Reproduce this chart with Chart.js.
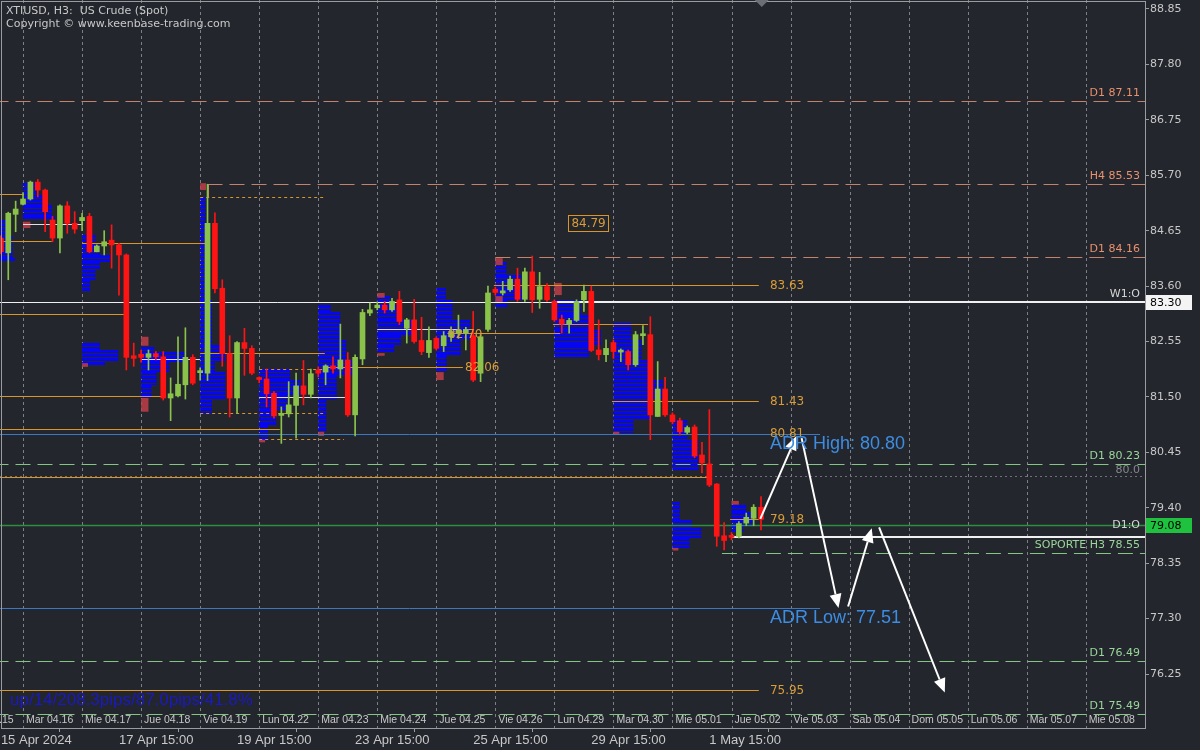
<!DOCTYPE html>
<html>
<head>
<meta charset="utf-8">
<title>XTIUSD H3 - US Crude (Spot)</title>
<script src="https://cdn.jsdelivr.net/npm/chart.js@4.4.1/dist/chart.umd.min.js"></script>
<style>
    html, body { margin: 0; padding: 0; background: #23262d; }
    #wrap { width: 1200px; height: 750px; }
</style>
</head>
<body>
<div id="wrap"><canvas id="chart" width="1200" height="750"></canvas></div>
<script>
// H3 bars, index 0 = first bar of Mar 04.16 (8 bars per day)
const firstBar = -3;
const opens = [
    84.51, 84.23, 84.96,
    85.15, 85.25, 85.57, 85.42, 84.85, 84.51, 85.12, 84.79,
    84.84, 84.92, 84.25, 84.36, 84.47, 84.38, 84.19, 82.28,
    82.31, 82.25, 82.32, 82.26, 81.48, 81.52, 81.73, 82.25,
    81.96, 81.95, 84.79, 83.56, 82.32, 81.48, 82.53, 82.42,
    81.84, 81.84, 81.57, 81.15, 81.18, 81.34, 81.71, 81.55,
    82.01, 81.97, 82.09, 82.03, 82.20, 81.16, 82.22, 83.09,
    83.19, 83.24, 83.15, 83.34, 82.80, 82.96, 82.57, 82.34,
    82.61, 82.47, 82.64, 82.71, 82.71, 82.66, 81.95, 82.78,
    83.54, 83.47, 83.53, 83.73, 83.35, 83.87, 83.35, 83.59,
    83.31, 82.97, 82.88, 82.95, 83.34, 83.50, 82.39, 82.30,
    82.53, 82.35, 82.36, 82.11, 82.66, 82.68, 81.13, 81.65,
    81.16, 81.05, 80.83, 80.93, 80.40, 80.23, 79.85, 78.87,
    78.87, 78.86, 79.11, 79.20, 79.41
];
const highs = [
    84.55, 85.00, 85.21,
    85.37, 85.59, 85.62, 85.44, 84.92, 85.14, 85.20, 85.01,
    84.98, 84.98, 84.38, 84.65, 84.76, 84.41, 84.21, 82.52,
    82.39, 82.39, 82.36, 82.36, 81.86, 82.64, 82.81, 82.30,
    82.05, 85.53, 84.99, 83.72, 82.66, 82.55, 82.80, 82.47,
    81.88, 82.03, 81.60, 81.31, 81.79, 81.95, 82.19, 82.03,
    82.07, 82.11, 82.26, 82.88, 82.34, 82.30, 83.16, 83.28,
    83.30, 83.31, 83.37, 83.50, 82.99, 83.35, 83.01, 82.83,
    82.64, 82.74, 82.83, 83.05, 82.82, 83.12, 82.68, 83.60,
    83.58, 83.69, 83.79, 83.94, 83.94, 84.17, 83.86, 83.65,
    83.34, 83.05, 82.99, 83.34, 83.62, 83.60, 82.96, 82.58,
    82.58, 82.41, 82.39, 82.74, 82.85, 83.02, 82.17, 81.87,
    81.20, 81.10, 80.95, 80.97, 80.64, 81.26, 79.86, 79.12,
    78.93, 79.14, 79.30, 79.46, 79.61
];
const lows = [
    84.21, 83.72, 84.63,
    85.14, 85.23, 85.29, 84.63, 84.44, 84.23, 84.60, 84.60,
    84.65, 84.23, 84.25, 84.19, 83.94, 83.43, 82.01, 82.08,
    82.16, 82.01, 82.20, 81.44, 81.05, 81.50, 81.46, 81.73,
    81.82, 81.81, 83.47, 82.08, 81.12, 81.19, 81.91, 81.92,
    81.77, 81.31, 81.10, 80.62, 81.12, 80.72, 81.35, 81.48,
    81.88, 81.73, 81.95, 81.86, 81.13, 80.76, 82.11, 83.04,
    83.15, 83.09, 83.12, 82.87, 82.52, 82.52, 82.30, 82.25,
    82.39, 82.36, 82.55, 82.61, 82.39, 81.79, 81.79, 82.74,
    83.43, 83.43, 83.50, 83.31, 83.31, 83.10, 83.18, 83.31,
    82.93, 82.71, 82.71, 82.93, 83.12, 82.36, 82.20, 82.17,
    82.23, 82.17, 82.01, 82.08, 82.49, 80.69, 81.13, 81.13,
    80.99, 80.78, 80.80, 80.35, 80.06, 79.80, 78.67, 78.60,
    78.79, 78.83, 79.06, 79.06, 78.98
];
const closes = [
    84.25, 84.98, 85.06,
    85.25, 85.57, 85.42, 85.01, 84.51, 85.12, 84.79, 84.68,
    84.90, 84.25, 84.36, 84.44, 84.38, 84.19, 82.25, 82.23,
    82.25, 82.32, 82.26, 81.48, 81.56, 81.74, 82.25, 81.76,
    81.98, 84.79, 83.55, 82.32, 81.48, 82.53, 82.42, 81.95,
    81.83, 81.56, 81.14, 81.17, 81.35, 81.71, 81.55, 81.94,
    81.95, 82.09, 82.03, 82.20, 81.16, 82.25, 83.10, 83.15,
    83.24, 83.15, 83.31, 82.93, 82.96, 82.55, 82.36, 82.57,
    82.42, 82.66, 82.74, 82.77, 82.78, 81.82, 82.64, 83.47,
    83.48, 83.51, 83.73, 83.35, 83.87, 83.34, 83.59, 83.34,
    82.96, 82.88, 82.95, 83.31, 83.50, 82.38, 82.30, 82.42,
    82.36, 82.36, 82.11, 82.68, 82.69, 81.16, 81.65, 81.16,
    81.03, 80.84, 80.92, 80.38, 80.25, 79.83, 78.86, 78.78,
    78.84, 79.10, 79.22, 79.41, 79.18
];

// axes
const yTicks = [88.85, 87.80, 86.75, 85.70, 84.65, 83.60, 82.55, 81.50, 80.45, 79.40, 78.35, 77.30, 76.25];
const timeTickIdx = [-3, 13, 29, 45, 61, 77, 93];
const timeTickLabels = ['15 Apr 2024', '17 Apr 15:00', '19 Apr 15:00', '23 Apr 15:00', '25 Apr 15:00', '29 Apr 15:00', '1 May 15:00'];
const dayStarts = [-8, 0, 8, 16, 24, 32, 40, 48, 56, 64, 72, 80, 88, 96, 104, 112, 120, 128, 136, 144];
const dayNames = ['Lun 04.15', 'Mar 04.16', 'Mie 04.17', 'Jue 04.18', 'Vie 04.19', 'Lun 04.22', 'Mar 04.23', 'Mie 04.24',
    'Jue 04.25', 'Vie 04.26', 'Lun 04.29', 'Mar 04.30', 'Mie 05.01', 'Jue 05.02', 'Vie 05.03', 'Sab 05.04',
    'Dom 05.05', 'Lun 05.06', 'Mar 05.07', 'Mie 05.08'];

// pivot levels (dashed, labelled on the right)
const levelPrices = [87.11, 85.53, 84.16, 80.23, 78.55, 76.49, 75.49];
const levelTags = ['D1 87.11', 'H4 85.53', 'D1 84.16', 'D1 80.23', 'SOPORTE H3 78.55', 'D1 76.49', 'D1 75.49'];
const levelFrom = [-4, 25, 64, -4, 94.7, -4, -4];
const levelIsResistance = [true, true, true, false, false, false, false];

const weeklyOpen = 83.30;
const dailyOpen = 79.08;
const roundLevel = 80.0;
const supportLine = [96.1, 78.85];
const adrHigh = 80.80;
const adrLow = 77.51;
const adrEnd = 108;

// [fromBar, toBar, price]
const orangeLines = [
    [-4, 0, 85.35], [-4, 3.9, 84.46], [8, 24.7, 84.42], [-4, 13.8, 83.07], [-4, 18.8, 81.52],
    [-4, 34.8, 80.90], [24, 40.9, 82.33], [40.9, 59.6, 82.06], [57.5, 72.8, 82.71], [71.8, 84.7, 82.88],
    [63.8, 99.7, 83.63], [79.8, 99.7, 81.43], [-4, 92.7, 79.99], [95.8, 99.7, 79.18], [-4, 99.7, 75.95]
];
const orangeDotted = [[24, 40.9, 85.29], [24, 40.9, 81.19], [32, 40.7, 82.03], [32, 43.5, 80.70]];
const pocLines = [[0, 8, 84.78], [16, 24, 82.22], [32, 44, 81.49], [48, 58.9, 82.79]];
const rightTags = [83.63, 81.43, 80.81, 79.18, 75.95];
const rightTagBar = 101.2;
const innerTags = [[57.6, 82.70], [59.9, 82.06]];
const boxTag = [73.9, 84.79];

// volume profiles: day start bar + rows [topPrice, bottomPrice, lengthInBars]
const profileStarts = [-8, 0, 8, 16, 24, 32, 40, 48, 56, 64, 72, 80, 88, 96];
const profileRows = [
    [[84.85, 84.55, 6.2], [84.55, 84.13, 6.6], [84.13, 84.06, 6.9]],
    [[85.55, 85.33, 1.8], [85.33, 85.14, 3.0], [85.14, 84.93, 3.9], [84.93, 84.87, 4.3]],
    [[84.57, 84.38, 1.8], [84.38, 84.19, 2.4], [84.19, 84.06, 3.8], [84.06, 83.91, 2.4], [83.91, 83.72, 1.8],
     [83.72, 83.49, 1.1], [82.52, 82.39, 2.4], [82.39, 82.16, 4.9], [82.16, 82.09, 3.1]],
    [[82.45, 82.35, 1.8], [82.35, 82.16, 5.9], [82.16, 81.97, 3.8], [81.97, 81.73, 2.1], [81.73, 81.48, 1.4]],
    [[85.29, 83.34, 0.7], [83.34, 82.49, 1.6], [82.49, 82.16, 3.4], [82.16, 81.97, 2.0], [81.97, 81.44, 3.4], [81.44, 81.20, 1.6]],
    [[82.03, 81.82, 4.2], [81.82, 81.54, 5.6], [81.54, 81.26, 3.8], [81.26, 80.97, 2.3], [80.97, 80.69, 1.2]],
    [[83.24, 83.11, 1.7], [83.11, 82.58, 3.0], [82.58, 82.20, 3.8], [82.20, 81.92, 5.1], [81.92, 81.44, 2.5], [81.44, 80.84, 1.1]],
    [[83.41, 83.24, 1.8], [83.24, 82.96, 3.2], [82.96, 82.68, 4.8], [82.68, 82.49, 3.2], [82.49, 82.33, 2.3]],
    [[83.57, 83.34, 1.3], [83.34, 82.96, 2.2], [82.96, 82.58, 4.6], [82.58, 82.30, 3.3], [82.30, 81.97, 1.4]],
    [[84.06, 83.81, 1.5], [83.81, 83.53, 3.5], [83.53, 83.34, 4.3], [83.34, 83.19, 1.6]],
    [[83.34, 83.05, 3.6], [83.05, 82.77, 5.0], [82.77, 82.49, 6.3], [82.49, 82.24, 4.7]],
    [[82.90, 82.58, 2.4], [82.58, 82.20, 3.8], [82.20, 81.82, 5.1], [81.82, 81.44, 6.7], [81.44, 81.07, 5.1], [81.07, 80.82, 2.7]],
    [[81.07, 80.69, 2.0], [80.69, 80.12, 3.5], [79.51, 79.17, 1.0], [79.17, 79.02, 2.6], [79.02, 78.83, 3.9], [78.83, 78.64, 2.3]],
    [[79.46, 79.32, 2.0], [79.32, 79.08, 3.0], [79.08, 78.94, 1.6]]
];
// small value-area blocks [startBar, top, bottom, lengthInBars]
const vaBlocks = [
    [0, 84.82, 84.70, 1], [8, 82.14, 82.07, 0.8], [16, 82.64, 82.47, 1], [16, 81.48, 81.22, 1],
    [24, 85.55, 85.42, 0.8], [32, 80.69, 80.64, 0.8], [40, 80.84, 80.76, 0.8], [48, 83.47, 83.38, 1],
    [48, 82.33, 82.28, 1], [56, 81.97, 81.82, 1], [64, 84.13, 84.00, 1], [64, 83.41, 83.30, 1],
    [72, 83.66, 83.43, 1], [80, 80.84, 80.79, 0.8], [88, 78.64, 78.59, 0.8], [96, 79.53, 79.46, 1]
];

// projected path arrows [bar, price]
const arrowFrom = [[99.9, 79.19], [105.5, 80.72], [111.8, 77.53], [116.0, 79.03]];
const arrowTo = [[104.8, 80.76], [110.5, 77.50], [115.0, 79.01], [124.9, 75.90]];

const statsText = 'up/14/208.3pips/87.0pips/41.8%';

const bull = '#8bc34a';
const bear = '#ff1414';
const barIdx = opens.map((_, k) => firstBar + k);
const candleColors = barIdx.map((_, k) => closes[k] >= opens[k] ? bull : bear);

const overlay = {
    id: 'overlay',
    beforeDraw(chart) {
        const { ctx } = chart;
        ctx.save();
        ctx.fillStyle = '#23262d';
        ctx.fillRect(0, 0, chart.width, chart.height);
        ctx.restore();
    },
    beforeDatasetsDraw(chart) {
        const { ctx, chartArea: a, scales: { x: xs, y: ys } } = chart;
        const X = v => xs.getPixelForValue(v);
        const Y = v => Math.round(ys.getPixelForValue(v)) + 0.5;
        ctx.save();
        ctx.beginPath();
        ctx.rect(a.left, a.top, a.right - a.left, a.bottom - a.top);
        ctx.clip();

        // day separators
        ctx.strokeStyle = '#7d7f84';
        ctx.lineWidth = 1;
        ctx.setLineDash([3, 3]);
        dayStarts.forEach(d => {
            const px = Math.round(X(d)) + 0.5;
            ctx.beginPath(); ctx.moveTo(px, a.top); ctx.lineTo(px, a.bottom); ctx.stroke();
        });
        ctx.setLineDash([]);

        // volume profiles (striped like a histogram)
        ctx.fillStyle = '#0606f0';
        profileStarts.forEach((s, k) => {
            profileRows[k].forEach(([top, bot, len]) => {
                const y0 = Math.round(ys.getPixelForValue(top)), y1 = Math.round(ys.getPixelForValue(bot));
                const x0 = X(s), w = X(s + len) - X(s);
                for (let yy = y0; yy < y1; yy += 4) ctx.fillRect(x0, yy, w, Math.min(3, y1 - yy));
            });
        });
        ctx.fillStyle = 'rgba(190, 62, 72, 0.85)';
        vaBlocks.forEach(([s, top, bot, len]) => {
            const y0 = ys.getPixelForValue(top), y1 = ys.getPixelForValue(bot);
            ctx.fillRect(X(s), y0, X(s + len) - X(s), Math.max(2, y1 - y0));
        });

        const hline = (x0, x1, y) => { ctx.beginPath(); ctx.moveTo(x0, y); ctx.lineTo(x1, y); ctx.stroke(); };

        // round number
        ctx.strokeStyle = '#6f7278';
        ctx.setLineDash([2, 3]);
        hline(a.left, a.right, Y(roundLevel));
        ctx.setLineDash([]);

        // pivot levels
        ctx.lineWidth = 1;
        ctx.setLineDash([15, 7]);
        levelPrices.forEach((p, k) => {
            ctx.strokeStyle = levelIsResistance[k] ? '#c4826a' : '#82c682';
            hline(X(levelFrom[k]), a.right, Y(p));
        });
        ctx.setLineDash([]);
        // H4 level start tick
        ctx.strokeStyle = '#c4826a';
        ctx.beginPath();
        ctx.moveTo(Math.round(X(levelFrom[1])) + 0.5, Y(levelPrices[1]));
        ctx.lineTo(Math.round(X(levelFrom[1])) + 0.5, Y(85.29));
        ctx.stroke();

        // ADR lines
        ctx.strokeStyle = '#3b78c2';
        hline(X(-4), X(adrEnd), Y(adrHigh));
        hline(X(-4), X(adrEnd), Y(adrLow));

        // session lines
        ctx.strokeStyle = '#d8962a';
        orangeLines.forEach(([x0, x1, p]) => hline(X(x0), X(x1), Y(p)));
        ctx.setLineDash([3, 3]);
        orangeDotted.forEach(([x0, x1, p]) => hline(X(x0), X(x1), Y(p)));
        ctx.setLineDash([]);
        ctx.strokeStyle = '#e6dbe6';
        pocLines.forEach(([x0, x1, p]) => hline(X(x0), X(x1), Y(p)));

        // daily open
        ctx.strokeStyle = '#2f8f40';
        ctx.lineWidth = 1.5;
        hline(a.left, a.right, Y(dailyOpen));

        // weekly open
        ctx.strokeStyle = '#f0f0f0';
        ctx.lineWidth = 1;
        hline(a.left, X(72), Y(weeklyOpen));
        ctx.lineWidth = 2;
        hline(X(72), a.right, Math.round(ys.getPixelForValue(weeklyOpen)));
        hline(X(supportLine[0]), a.right, Math.round(ys.getPixelForValue(supportLine[1])));
        ctx.restore();
    },
    afterDatasetsDraw(chart) {
        const { ctx, chartArea: a, scales: { x: xs, y: ys } } = chart;
        const X = v => xs.getPixelForValue(v);
        const Y = v => Math.round(ys.getPixelForValue(v)) + 0.5;
        ctx.save();
        ctx.beginPath();
        ctx.rect(a.left, a.top, a.right - a.left, a.bottom - a.top);
        ctx.clip();

        // arrows
        ctx.strokeStyle = '#ffffff';
        ctx.fillStyle = '#ffffff';
        ctx.lineWidth = 2;
        arrowFrom.forEach((f, k) => {
            const x0 = X(f[0]), y0 = ys.getPixelForValue(f[1]);
            const x1 = X(arrowTo[k][0]), y1 = ys.getPixelForValue(arrowTo[k][1]);
            const ang = Math.atan2(y1 - y0, x1 - x0);
            const hl = 14, hw = 6;
            const bx = x1 - hl * Math.cos(ang), by = y1 - hl * Math.sin(ang);
            ctx.beginPath(); ctx.moveTo(x0, y0); ctx.lineTo(bx, by); ctx.stroke();
            ctx.beginPath();
            ctx.moveTo(x1, y1);
            ctx.lineTo(bx + hw * Math.sin(ang), by - hw * Math.cos(ang));
            ctx.lineTo(bx - hw * Math.sin(ang), by + hw * Math.cos(ang));
            ctx.closePath(); ctx.fill();
        });

        // level labels on the right
        ctx.font = '11px "DejaVu Sans"';
        ctx.textAlign = 'right';
        ctx.textBaseline = 'bottom';
        levelPrices.forEach((p, k) => {
            ctx.fillStyle = levelIsResistance[k] ? '#e8916d' : '#9ad69a';
            ctx.fillText(levelTags[k], a.right - 5, Y(p) - 3);
        });
        ctx.fillStyle = '#d6d6d6';
        ctx.fillText('W1:O', a.right - 5, Y(weeklyOpen) - 3);
        ctx.fillStyle = '#85888d';
        ctx.fillText(roundLevel.toFixed(1), a.right - 5, Y(roundLevel) - 1);
        ctx.textBaseline = 'middle';
        ctx.fillStyle = '#d6d6d6';
        ctx.fillText('D1:O', a.right - 5, Y(dailyOpen));

        // orange price tags
        ctx.textAlign = 'left';
        ctx.font = '12px "DejaVu Sans"';
        ctx.fillStyle = '#d89c38';
        rightTags.forEach(p => ctx.fillText(p.toFixed(2), X(rightTagBar), Y(p)));
        innerTags.forEach(([b, p]) => ctx.fillText(p.toFixed(2), X(b), Y(p)));
        const bw = ctx.measureText(boxTag[1].toFixed(2)).width;
        ctx.fillText(boxTag[1].toFixed(2), X(boxTag[0]) + 3, Y(boxTag[1]));
        ctx.strokeStyle = '#d8962a';
        ctx.lineWidth = 1;
        ctx.strokeRect(Math.round(X(boxTag[0])) + 0.5, Y(boxTag[1]) - 8, Math.round(bw + 6), 16);

        // ADR texts
        ctx.font = '18px "Liberation Sans"';
        ctx.fillStyle = '#3d8de2';
        ctx.fillText('ADR High: ' + adrHigh.toFixed(2), X(rightTagBar), Y(adrHigh) + 10);
        ctx.fillText('ADR Low: ' + adrLow.toFixed(2), X(rightTagBar), Y(adrLow) + 10);

        // stats
        ctx.font = '17px "Liberation Sans"';
        ctx.fillStyle = '#1a1ac0';
        ctx.fillText(statsText, 10, 700);

        // day labels
        ctx.font = '10.5px "Liberation Sans"';
        ctx.fillStyle = '#c8c8c8';
        dayStarts.forEach((d, k) => ctx.fillText(dayNames[k], X(d) + 3, 720));

        // title
        ctx.font = '11px "DejaVu Sans"';
        ctx.fillText('XTIUSD, H3:  US Crude (Spot)', 6, 11);
        ctx.fillText('Copyright \u00a9 www.keenbase-trading.com', 6, 24);
        ctx.restore();

        // frame
        ctx.save();
        ctx.strokeStyle = '#9a9ca0';
        ctx.lineWidth = 1;
        ctx.strokeRect(a.left + 1.5, a.top + 1.5, a.right - a.left - 1, a.bottom - a.top - 1);

        // shift marker
        ctx.fillStyle = '#6c6f75';
        const mx = X(100.1);
        ctx.beginPath(); ctx.moveTo(mx - 7, 0); ctx.lineTo(mx + 7, 0); ctx.lineTo(mx, 7); ctx.closePath(); ctx.fill();

        // price boxes on the axis
        ctx.font = '11px "DejaVu Sans"';
        ctx.textAlign = 'left';
        ctx.textBaseline = 'middle';
        [[weeklyOpen, '#f4f4f4'], [dailyOpen, '#1fc23e']].forEach(([p, bg]) => {
            const y = Math.round(ys.getPixelForValue(p));
            ctx.fillStyle = bg;
            ctx.fillRect(a.right + 1, y - 7, 46, 15);
            ctx.fillStyle = '#000000';
            ctx.fillText(p.toFixed(2), a.right + 5, y + 1);
        });
        ctx.restore();
    }
};

new Chart(document.getElementById('chart'), {
    type: 'bar',
    data: {
        datasets: [
            {
                label: 'wick',
                data: barIdx.map((x, k) => ({ x, y: [lows[k], highs[k]] })),
                backgroundColor: candleColors,
                barThickness: 1,
                grouped: false,
                order: 2
            },
            {
                label: 'body',
                data: barIdx.map((x, k) => ({ x, y: [opens[k], closes[k]] })),
                backgroundColor: candleColors,
                barThickness: 5,
                minBarLength: 2,
                grouped: false,
                order: 1
            }
        ]
    },
    options: {
        responsive: false,
        animation: false,
        layout: { padding: 0 },
        plugins: { legend: { display: false }, tooltip: { enabled: false } },
        scales: {
            x: {
                type: 'linear',
                min: -3.12,
                max: 152.03,
                offset: false,
                afterBuildTicks: axis => { axis.ticks = timeTickIdx.map(v => ({ value: v })); },
                afterFit: axis => {
                    axis.height = 22;
                    axis.paddingLeft = 0; axis.paddingRight = 0;
                    axis.paddingTop = 0; axis.paddingBottom = 0;
                },
                ticks: {
                    autoSkip: false,
                    maxRotation: 0,
                    align: 'start',
                    padding: 1,
                    color: '#c8c8c8',
                    font: { family: 'Liberation Sans', size: 13 },
                    callback: (v, i) => timeTickLabels[i]
                },
                grid: { drawOnChartArea: false, drawTicks: true, tickLength: 4, color: '#9a9ca0' },
                border: { display: false }
            },
            y: {
                type: 'linear',
                position: 'right',
                min: 75.2275,
                max: 89.0205,
                afterBuildTicks: axis => { axis.ticks = yTicks.map(v => ({ value: v })); },
                afterFit: axis => {
                    axis.width = 55;
                    axis.paddingTop = 0; axis.paddingBottom = 0;
                    axis.paddingLeft = 0; axis.paddingRight = 0;
                },
                ticks: {
                    padding: 1,
                    color: '#c8c8c8',
                    font: { family: 'DejaVu Sans', size: 11 },
                    callback: v => Number(v).toFixed(2)
                },
                grid: { drawOnChartArea: false, drawTicks: true, tickLength: 4, color: '#9a9ca0' },
                border: { display: false }
            }
        }
    },
    plugins: [overlay]
});
</script>
</body>
</html>
